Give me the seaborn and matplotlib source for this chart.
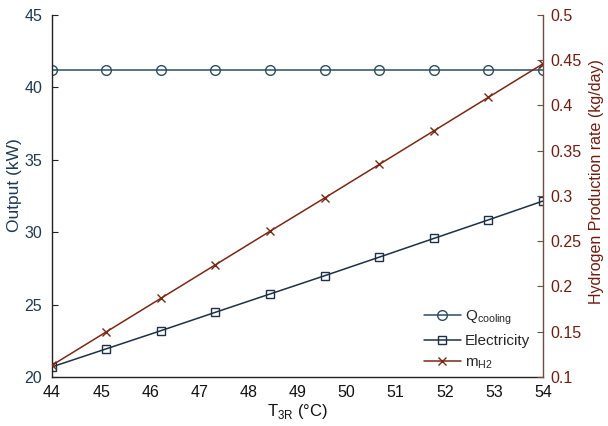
import numpy as np
import matplotlib
matplotlib.use("Agg")
import matplotlib.pyplot as plt
import seaborn as sns
import pandas as pd

# Reactor temperature sweep and the resulting outputs
t3r = [44.0, 45.11, 46.22, 47.33, 48.44, 49.56, 50.67, 51.78, 52.89, 54.0]
q_cooling = [41.2, 41.2, 41.2, 41.2, 41.2, 41.2, 41.2, 41.2, 41.2, 41.2]
electricity = [20.7, 21.95, 23.2, 24.47, 25.73, 27.0, 28.28, 29.57, 30.85, 32.15]
m_h2 = [0.113, 0.150, 0.187, 0.224, 0.261, 0.298, 0.335, 0.372, 0.409, 0.446]

xticks = [44, 45, 46, 47, 48, 49, 50, 51, 52, 53, 54]
left_ticks = [20, 25, 30, 35, 40, 45]
right_ticks = [0.1, 0.15, 0.2, 0.25, 0.3, 0.35, 0.4, 0.45, 0.5]

df = pd.DataFrame({"T3R": t3r, "Q": q_cooling, "E": electricity, "H2": m_h2})

sns.set_style("white")
plt.rcParams["font.family"] = ["Liberation Sans", "DejaVu Sans"]
plt.rcParams["mathtext.fontset"] = "custom"
plt.rcParams["mathtext.rm"] = "Liberation Sans"

c_q = "#2c4d63"
c_e = "#1d3045"
c_h = "#7a2816"
c_left = "#1f3a52"
c_right = "#6e1e10"

fig = plt.figure(figsize=(6.08, 4.26), dpi=100)
ax = fig.add_axes([0.0855, 0.115, 0.8075, 0.85])
ax2 = ax.twinx()

sns.lineplot(data=df, x="T3R", y="Q", ax=ax, color=c_q, lw=1.1,
             marker="o", markersize=7, markerfacecolor="none",
             markeredgecolor=c_q, markeredgewidth=1.0,
             label=r"Q$_{\mathrm{cooling}}$", legend=False)
sns.lineplot(data=df, x="T3R", y="E", ax=ax, color=c_e, lw=1.1,
             marker="s", markersize=6, markerfacecolor="none",
             markeredgecolor=c_e, markeredgewidth=1.0, label="Electricity",
             legend=False)
sns.lineplot(data=df, x="T3R", y="H2", ax=ax2, color=c_h, lw=1.1,
             marker="x", markersize=6, markeredgecolor=c_h,
             markeredgewidth=1.0, label=r"m$_{\mathrm{H2}}$", legend=False)

ax.set_xlim(44, 54)
ax.set_ylim(20, 45)
ax2.set_ylim(0.1, 0.5)
ax.set_xticks(xticks)
ax.set_yticks(left_ticks)
ax2.set_yticks(right_ticks)
ax2.set_yticklabels([f"{v:g}" for v in right_ticks])

ax.set_xlabel(r"T$_{\mathrm{3R}}$ (°C)", fontsize=12, color="#111111",
              labelpad=1)
ax.set_ylabel("Output (kW)", fontsize=12.5, color=c_left)
ax2.set_ylabel("Hydrogen Production rate (kg/day)", fontsize=11.5,
               color=c_right)
ax.yaxis.set_label_coords(-0.062, 0.53)
ax2.yaxis.set_label_coords(1.093, 0.54)

ax.tick_params(axis="x", direction="in", length=4, labelsize=11.5,
               colors="#111111", pad=6, top=False)
ax.tick_params(axis="y", direction="in", length=4, labelsize=11.5,
               labelcolor=c_left, color="#222222", pad=7)
ax2.tick_params(axis="y", direction="in", length=4, labelsize=11.5,
                labelcolor=c_right, color="#6a5040", pad=5)

for a in (ax, ax2):
    a.spines["top"].set_visible(False)
ax.spines["right"].set_visible(False)
ax.spines["left"].set_color("#222222")
ax.spines["bottom"].set_color("#222222")
ax2.spines["left"].set_visible(False)
ax2.spines["bottom"].set_visible(False)
ax2.spines["right"].set_color("#6a5040")
for s in ("left", "bottom"):
    ax.spines[s].set_linewidth(1.0)
ax2.spines["right"].set_linewidth(1.0)

h1, l1 = ax.get_legend_handles_labels()
h2, l2 = ax2.get_legend_handles_labels()
ax2.legend(h1 + h2, l1 + l2, loc="upper left", bbox_to_anchor=(0.745, 0.205),
           frameon=False, fontsize=11, handlelength=2.4, handletextpad=0.3,
           labelspacing=0.45, borderaxespad=0)

fig.savefig("out.png", dpi=100)
